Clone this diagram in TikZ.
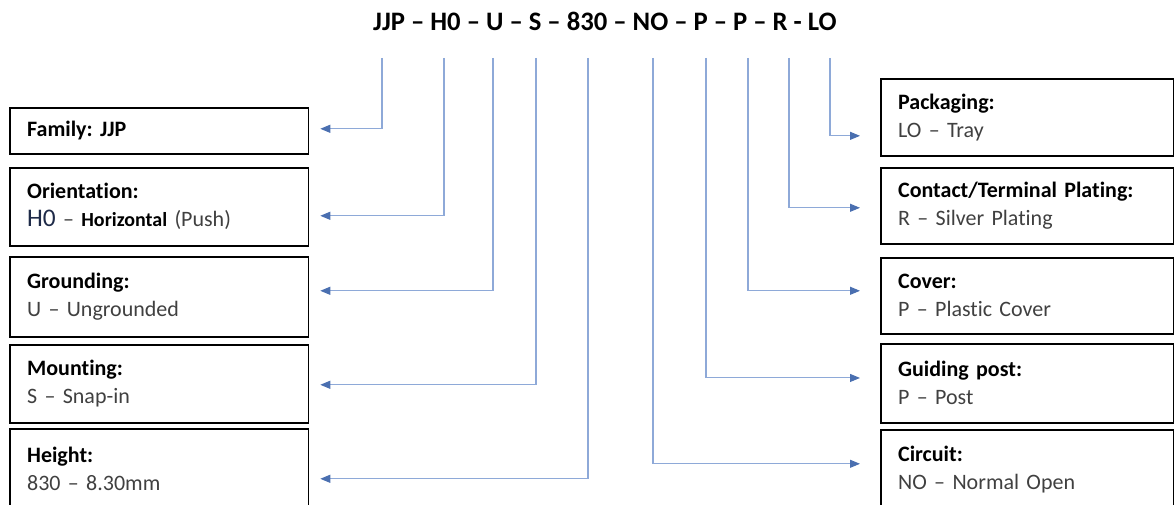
\documentclass[tikz,border=0pt]{standalone}
\usepackage{fontspec}
\setmainfont[Ligatures={TeX,NoCommon}]{Carlito}
\usetikzlibrary{arrows.meta}
\frenchspacing

\definecolor{linkblue}{HTML}{8EA9D8}
\definecolor{tipblue}{HTML}{4A6FB0}
\definecolor{valgray}{HTML}{404040}
\definecolor{codenavy}{HTML}{1E2A48}

\tikzset{
    box/.style={draw, line width=1.2pt, align=left, anchor=north west, inner xsep=13pt, inner ysep=0pt, font=\fontsize{16.5}{21}\selectfont},
    leftbox/.style={box, text width=198pt},
    rightbox/.style={box, text width=194pt},
    link/.style={draw=linkblue, line width=0.8pt, -{Triangle[length=7.5pt, width=6pt, color=tipblue]}},
}

\begin{document}
\begin{tikzpicture}[x=0.75pt, y=-0.75pt]
    \useasboundingbox (0,0) rectangle (1174,505);

    \node[font=\fontsize{20}{24}\selectfont\bfseries] (code) at (605,21) {JJP – H0 – U – S – 830 – NO – P – P – R - LO};

    % start points under the part code
    \coordinate (jjp) at (382,58);
    \coordinate (hzero) at (444,58);
    \coordinate (u) at (493,58);
    \coordinate (s) at (536,58);
    \coordinate (eightthirty) at (588,58);
    \coordinate (no) at (653,58);
    \coordinate (post) at (706,58);
    \coordinate (cover) at (748,58);
    \coordinate (r) at (789,58);
    \coordinate (lo) at (830,58);

    % left column
    \node[leftbox, minimum height=34.5pt] (family) at (9,107) {\textbf{Family: JJP}};
    \node[leftbox, minimum height=58.5pt] (orient) at (9,167) {\textbf{Orientation:}\\{\fontsize{19}{21}\selectfont\color{codenavy}H0} {\color{valgray}–} {\fontsize{15}{21}\selectfont\bfseries Horizontal} {\color{valgray}(Push)}};
    \node[leftbox, minimum height=60pt] (ground) at (9,256) {\textbf{Grounding:}\\{\color{valgray}U – Ungrounded}};
    \node[leftbox, minimum height=58.5pt] (mount) at (9,344) {\textbf{Mounting:}\\{\color{valgray}S – Snap-in}};
    \node[leftbox, minimum height=60pt] (height) at (9,428) {\textbf{Height:}\\{\color{valgray}830 – 8.30mm}};

    % right column
    \node[rightbox, minimum height=57.75pt] (pack) at (880,78) {\textbf{Packaging:}\\{\color{valgray}LO – Tray}};
    \node[rightbox, minimum height=57pt] (plating) at (880,167) {\textbf{Contact/Terminal Plating:}\\{\color{valgray}R – Silver Plating}};
    \node[rightbox, minimum height=57pt] (cov) at (880,257) {\textbf{Cover:}\\{\color{valgray}P – Plastic Cover}};
    \node[rightbox, minimum height=59.25pt] (guide) at (880,343) {\textbf{Guiding post:}\\{\color{valgray}P – Post}};
    \node[rightbox, minimum height=60pt] (circuit) at (880,429) {\textbf{Circuit:}\\{\color{valgray}NO – Normal Open}};

    \draw[link, shorten >=8.25pt] (jjp) |- ([yshift=1.5pt]family.east);
    \draw[link, shorten >=8.25pt] (hzero) |- ([yshift=-6.75pt]orient.east);
    \draw[link, shorten >=8.25pt] (u) |- ([yshift=4.5pt]ground.east);
    \draw[link, shorten >=8.25pt] (s) |- ([yshift=-0.75pt]mount.east);
    \draw[link, shorten >=8.25pt] (eightthirty) |- ([yshift=-7.5pt]height.east);

    \draw[link, shorten >=15pt] (lo) |- ([yshift=-13.9pt]pack.west);
    \draw[link, shorten >=15pt] (r) |- ([yshift=-1.5pt]plating.west);
    \draw[link, shorten >=15pt] (cover) |- ([yshift=3.75pt]cov.west);
    \draw[link, shorten >=15pt] (post) |- ([yshift=4pt]guide.west);
    \draw[link, shorten >=15pt] (no) |- ([yshift=4.5pt]circuit.west);
\end{tikzpicture}
\end{document}
